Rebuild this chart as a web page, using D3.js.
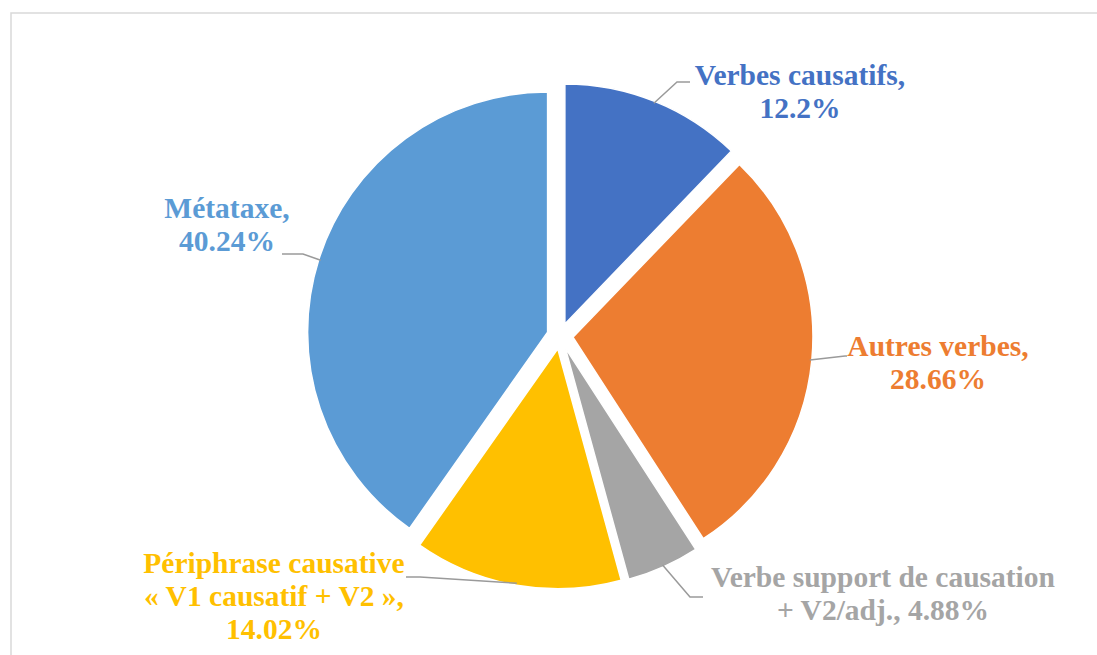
<!DOCTYPE html>
<html>
<head>
<meta charset="utf-8">
<script src="https://cdn.jsdelivr.net/npm/d3@7"></script>
<style>
  html, body { margin: 0; padding: 0; background: #fff; }
  svg { display: block; }
</style>
</head>
<body>
<svg id="chart" width="1097" height="655"></svg>
<script>
// ---- data ----
const categories = ["Verbes causatifs", "Autres verbes", "Verbe support de causation + V2/adj.", "Périphrase causative « V1 causatif + V2 »", "Métataxe"];
const values = [12.2, 28.66, 4.88, 14.02, 40.24];
const labelLines = [
  ["Verbes causatifs,", "12.2%"],
  ["Autres verbes,", "28.66%"],
  ["Verbe support de causation", "+ V2/adj., 4.88%"],
  ["Périphrase causative", "« V1 causatif + V2 »,", "14.02%"],
  ["Métataxe,", "40.24%"]
];
const colors = ["#4472C4", "#ED7D31", "#A5A5A5", "#FFC000", "#5B9BD5"];

// ---- layout ----
const W = 1097, H = 655;
const cx = 560, cy = 336, R = 240, explode = 13;
const fontSize = 29.5, lineH = 33;
// label layout: text centre x, first baseline y, leader elbow & end
const labelLayout = [
  { x: 800, y: 85, elbow: [677, 82], end: [690, 82] },
  { x: 938, y: 356, elbow: [845, 356], end: [847, 356] },
  { x: 883, y: 587, elbow: [690, 597], end: [703, 597] },
  { x: 274, y: 573, elbow: [420, 577], end: [406, 577] },
  { x: 227, y: 218, elbow: [303, 254], end: [282, 254] }
];

const svg = d3.select("#chart");

// frame
svg.append("rect")
  .attr("x", 11).attr("y", 13)
  .attr("width", W + 20).attr("height", H + 20)
  .attr("fill", "#fff")
  .attr("stroke", "#d9d9d9").attr("stroke-width", 1.5);

const pie = d3.pie().sort(null).value(d => d)(values);
const arc = d3.arc().innerRadius(0).outerRadius(R);

const g = svg.append("g").attr("transform", `translate(${cx},${cy})`);

function dir(a) { return [Math.sin(a), -Math.cos(a)]; }

pie.forEach((p, i) => {
  const mid = (p.startAngle + p.endAngle) / 2;
  const [dx, dy] = dir(mid);
  g.append("path")
    .attr("d", arc(p))
    .attr("transform", `translate(${dx * explode},${dy * explode})`)
    .attr("fill", colors[i])
    .attr("stroke", "#fff").attr("stroke-width", 1.5);
});

// leader lines & labels
pie.forEach((p, i) => {
  const mid = (p.startAngle + p.endAngle) / 2;
  const [dx, dy] = dir(mid);
  const sx = cx + dx * (explode + R - 2), sy = cy + dy * (explode + R - 2);
  const L = labelLayout[i];
  svg.append("path")
    .attr("d", d3.line()([[sx, sy], L.elbow, L.end]))
    .attr("fill", "none")
    .attr("stroke", "#9a9a9a").attr("stroke-width", 1.5);

  const t = svg.append("text")
    .attr("x", L.x).attr("y", L.y)
    .attr("text-anchor", "middle")
    .attr("font-family", "'Liberation Serif', 'Times New Roman', serif")
    .attr("font-weight", "bold")
    .attr("font-size", fontSize)
    .attr("fill", colors[i]);
  labelLines[i].forEach((line, k) => {
    t.append("tspan").attr("x", L.x).attr("y", L.y + k * lineH).text(line);
  });
});
</script>
</body>
</html>
